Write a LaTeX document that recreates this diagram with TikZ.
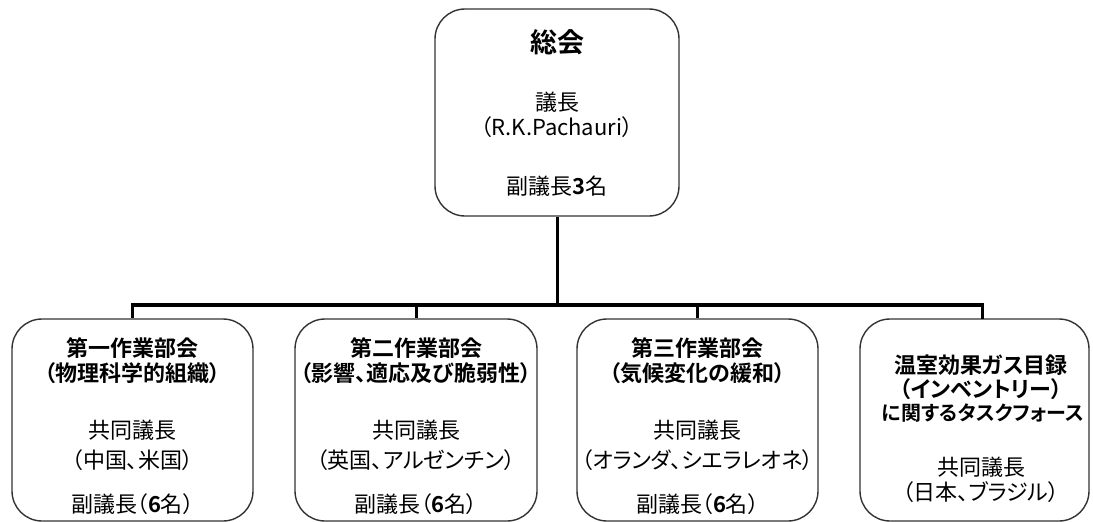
\documentclass[tikz,border=0pt]{standalone}
\usepackage{fontspec}
\setmainfont{Noto Sans CJK JP}[CharacterWidth=AlternateProportional,BoldFont={Noto Sans CJK JP Bold}]
\usetikzlibrary{calc}
\tikzset{
  box/.style={draw=black!80, line width=1.4pt, rounded corners=30pt, inner sep=0pt, fill=white},
  txt/.style={inner sep=0pt, anchor=center, font=\fontsize{22}{25}\selectfont, align=center},
  ttl/.style={txt, font=\fontsize{22}{25}\selectfont\bfseries},
  conn/.style={line width=3pt, black},
  barline/.style={line width=4pt, black, line cap=rect},
}
\begin{document}
\begin{tikzpicture}[x=1pt,y=-1pt]
\useasboundingbox (0,0) rectangle (1093,522);
% boxes
\node[box, minimum width=244pt, minimum height=207pt] (top) at (557,112.5) {};
\node[box, minimum width=241pt, minimum height=202pt] (wg1) at (132.5,420) {};
\node[box, minimum width=242pt, minimum height=202pt] (wg2) at (416,420) {};
\node[box, minimum width=241pt, minimum height=202pt] (wg3) at (697.5,420) {};
\node[box, minimum width=229pt, minimum height=202pt] (tf) at (974.5,420) {};
\coordinate (tfin) at (982,319);
\coordinate (bar) at (557,305);
% connectors
\draw[conn] (top.south) -- (bar);
\draw[barline] (wg1.north |- bar) -- (tfin |- bar);
\draw[conn] (wg1.north |- bar) -- (wg1.north);
\draw[conn] (wg2.north |- bar) -- (wg2.north);
\draw[conn] (wg3.north |- bar) -- (wg3.north);
\draw[conn] (tfin |- bar) -- (tfin);
% top text
\node[txt, font=\fontsize{27}{30}\selectfont\bfseries] (t0) at (557,42) {総会};
\node[txt] (t1) at (557,102) {議長};
\node[txt] (t2) at (557,127) {（R.K.Pachauri）};
\node[txt] (t3) at (557,186) {副議長\textbf{3}名};
% wg1
\node[ttl] (a1) at (132.5,348) {第一作業部会};
\node[ttl] (a2) at (132.5,373) {（物理科学的組織）};
\node[txt] (a3) at (132.5,430) {共同議長};
\node[txt] (a4) at (132.5,460) {（中国、米国）};
\node[txt] (a5) at (132.5,504) {副議長（\textbf{6}名）};
% wg2
\node[ttl] (b1) at (416,348) {第二作業部会};
\node[ttl] (b2) at (416,373) {（影響、適応及び脆弱性）};
\node[txt] (b3) at (416,430) {共同議長};
\node[txt] (b4) at (416,460) {（英国、アルゼンチン）};
\node[txt] (b5) at (416,504) {副議長（\textbf{6}名）};
% wg3
\node[ttl] (c1) at (697.5,348) {第三作業部会};
\node[ttl] (c2) at (697.5,373) {（気候変化の緩和）};
\node[txt] (c3) at (697.5,430) {共同議長};
\node[txt] (c4) at (697.5,460) {（オランダ、シエラレオネ）};
\node[txt] (c5) at (697.5,504) {副議長（\textbf{6}名）};
% task force
\node[ttl] (d1) at (981,365) {温室効果ガス目録};
\node[ttl] (d2) at (981,389) {（インベントリー）};
\node[ttl, font=\fontsize{20}{25}\selectfont\bfseries] (d3) at (983,413) {に関するタスクフォース};
\node[txt] (d4) at (981,467) {共同議長};
\node[txt] (d5) at (981,492) {（日本、ブラジル）};
\end{tikzpicture}
\end{document}
